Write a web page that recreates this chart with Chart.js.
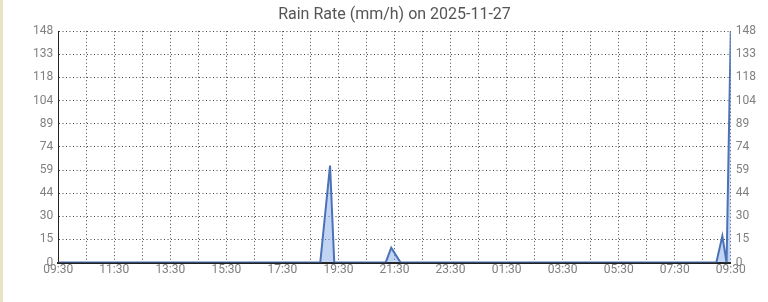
<!DOCTYPE html>
<html>
<head>
<meta charset="utf-8">
<script src="https://cdn.jsdelivr.net/npm/chart.js@4.4.1/dist/chart.umd.min.js"></script>
<style>
  html, body { margin: 0; padding: 0; background: #fff; }
  .wrap { position: relative; width: 768px; height: 302px; }
  .strip { position: absolute; left: 0; top: 0; width: 3px; height: 302px; background: #e6e4c4; }
  canvas { position: absolute; left: 0; top: 0; }
</style>
</head>
<body>
<div class="wrap">
  <div class="strip"></div>
  <canvas id="rainChart" width="768" height="302"></canvas>
</div>
<script>
// readings (local time, day wraps past midnight)
const times = ['09:30', '18:51', '19:12', '19:21', '21:11', '21:23', '21:43', '08:59', '09:12', '09:21', '09:30'];
const rainRate = [0, 0, 62, 0, 0, 9.5, 0, 0, 17, 0, 148];
const yMax = 148;
const startHour = 9.5;

function hoursFromStart(t) {
    const parts = t.split(':');
    let h = parseInt(parts[0]) + parseInt(parts[1]) / 60 - startHour;
    if (h < 0) h += 24;
    return h;
}

function fmtHour(v) {
    let h = (startHour + v) % 24;
    const hh = Math.floor(h);
    const mm = Math.round((h - hh) * 60);
    return String(hh).padStart(2, '0') + ':' + String(mm).padStart(2, '0');
}

const points = times.map(function(t, i) {
    let x = hoursFromStart(t);
    if (i === times.length - 1 && x === 0) x = 24;
    return { x: x, y: rainRate[i] };
});

const yTicks = function(axis) {
    axis.ticks = [];
    for (let i = 0; i <= 10; i++) axis.ticks.push({ value: yMax * i / 10 });
};

const tickFont = { family: 'Roboto', size: 12 };

new Chart(document.getElementById('rainChart'), {
    type: 'line',
    data: {
        datasets: [{
            data: points,
            borderColor: '#4b72b6',
            backgroundColor: 'rgba(120, 160, 230, 0.45)',
            borderWidth: 2,
            fill: 'origin',
            tension: 0,
            pointRadius: 0
        }]
    },
    options: {
        responsive: false,
        animation: false,
        layout: { padding: { left: 28, right: 7, top: 0, bottom: 25 } },
        plugins: {
            legend: { display: false },
            tooltip: { enabled: false },
            title: {
                display: true,
                text: 'Rain Rate (mm/h) on 2025-11-27',
                color: '#555',
                font: { family: 'Roboto', size: 16, weight: 'normal' },
                padding: { top: 5, bottom: 7 }
            }
        },
        scales: {
            x: {
                type: 'linear',
                min: 0,
                max: 24,
                grid: { color: '#444', lineWidth: 1, drawTicks: false },
                border: { color: '#222', width: 2, dash: [1, 2.5] },
                ticks: {
                    stepSize: 1,
                    autoSkip: false,
                    maxRotation: 0,
                    padding: 0,
                    color: '#808080',
                    font: tickFont,
                    callback: function(v) { return v % 2 === 0 ? fmtHour(v) : ''; }
                }
            },
            y: {
                position: 'left',
                min: 0,
                max: yMax,
                afterBuildTicks: yTicks,
                grid: { color: '#444', lineWidth: 1, drawTicks: false },
                border: { color: '#222', width: 1, dash: [1, 2.5] },
                ticks: {
                    padding: 5,
                    color: '#808080',
                    font: tickFont,
                    callback: function(v) { return Math.round(v); }
                }
            },
            y2: {
                position: 'right',
                min: 0,
                max: yMax,
                afterBuildTicks: yTicks,
                grid: { drawOnChartArea: false, drawTicks: false },
                border: { display: false },
                ticks: {
                    padding: 5,
                    color: '#808080',
                    font: tickFont,
                    callback: function(v) { return Math.round(v); }
                }
            }
        }
    }
});
</script>
</body>
</html>
